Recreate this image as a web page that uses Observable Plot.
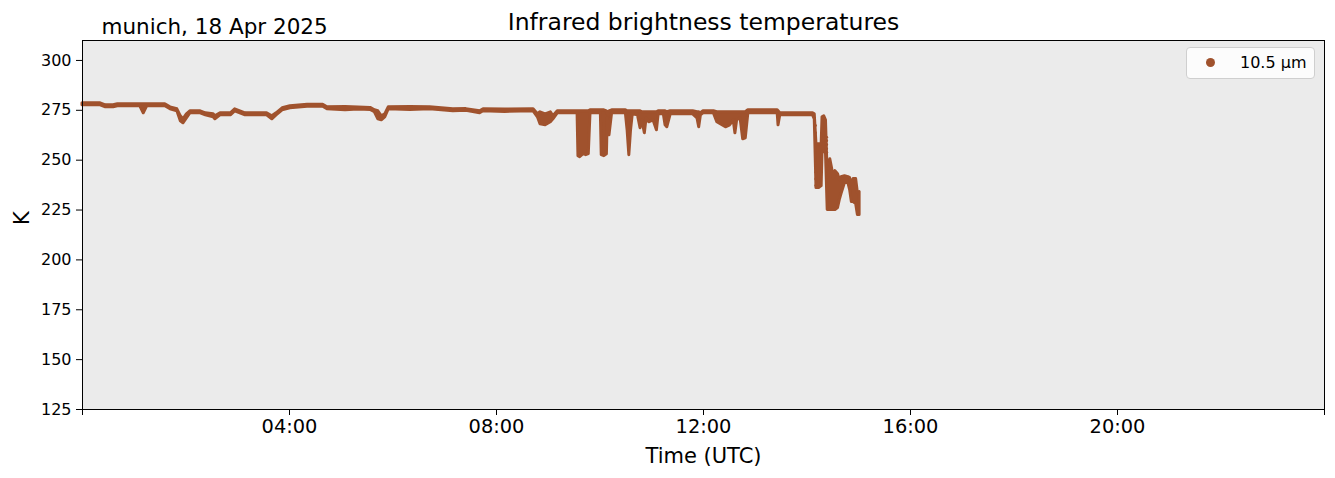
<!DOCTYPE html>
<html>
<head>
<meta charset="utf-8">
<script src="https://cdn.jsdelivr.net/npm/d3@7"></script>
<script src="https://cdn.jsdelivr.net/npm/@observablehq/plot@0.6"></script>
<style>
  html, body { margin: 0; padding: 0; background: white; }
  #wrap { position: relative; width: 1335px; height: 478px; font-family: "DejaVu Sans", sans-serif; }
  #legend { position: absolute; left: 1186px; top: 47px; width: 127px; height: 30px;
    background: rgba(255,255,255,0.85); border: 1px solid #cfcfcf; border-radius: 4px; }
  #legend .sw { position: absolute; left: 19px; top: 10px; width: 9px; height: 9px; border-radius: 50%; background: #a0522d; }
  #legend .lb { position: absolute; left: 53px; top: 3px; font-size: 16px; line-height: 24px; color: #000; }
</style>
</head>
<body>
<div id="wrap"><div id="legend"><span class="sw"></span><span class="lb">10.5 µm</span></div></div>
<script>
// ---- data ----
const day = "2025-04-18";
const seriesName = "10.5 µm";
const envTimes = ["00:00","00:21","00:27","00:36","00:41","01:07","01:11","01:15","01:36","01:42","01:50","01:54","01:57","02:01","02:05","02:17","02:23","02:32","02:34","02:40","02:52","02:57","03:03","03:09","03:34","03:40","03:45","03:52","04:01","04:21","04:39","04:44","05:05","05:20","05:34","05:39","05:43","05:47","05:51","05:55","06:20","06:43","07:10","07:25","07:41","07:45","08:10","08:43","08:48","08:51","08:57","09:03","09:06","09:11","09:34","09:35","09:37","09:41","09:44","09:47","09:49","10:01","10:02","10:05","10:08","10:09","10:11","10:14","10:30","10:32","10:34","10:36","10:38","10:44","10:47","10:49","10:52","10:54","10:57","11:02","11:06","11:08","11:14","11:16","11:18","11:22","11:48","11:53","11:55","11:57","12:00","12:12","12:16","12:22","12:26","12:31","12:35","12:37","12:39","12:43","12:46","12:49","12:52","13:26","13:27","13:29","14:07","14:09","14:11","14:14","14:17","14:18","14:20","14:22","14:24","14:25","14:27","14:29","14:31","14:33","14:36","14:38","14:40","14:44","14:48","14:50","14:52","14:54","14:57","14:59","15:01"];
const envLow = [277.5,277.5,276.5,276.5,277,277,273.5,277,277,275.5,274.5,269.5,268.5,271,273.5,273.5,272.5,271.5,270.5,272.5,272.5,274.5,273.5,272.5,272.5,270.5,272.5,275,276,276.8,276.8,275.5,275,275.4,275.2,274,270.5,270,271.5,275.5,275.2,275.5,274.5,274.8,273.5,274.5,274.2,274.5,271.5,268,267.5,269,270.5,273.5,273.5,252,251.5,253,252.5,253,273.5,273.5,252.5,252,253,271,262.5,273.5,273.5,265,252.5,265,273,272.5,266,270,263.5,271,269,270,265,273,273,267.5,266.5,273,273,271,266.5,272.5,273.5,273.5,269,267.5,266.5,267.5,270,263.5,270,271,260.5,261,273.5,273.5,267.5,272.5,272.5,270.5,236,236,237,254.5,254,254,225,225,225,225,225,225,226,230,233,238.5,238.5,235,229,229,228,222.5,222.5];
const envHigh = [278.5,278.5,277.5,277.5,278,278,278,278,278,276.5,275.5,272,270.5,273,274.5,274.5,273.5,273,272,273.5,273.5,275.5,274.5,273.5,273.5,272,273.5,276,277,277.8,277.8,276.5,276.6,276.4,276.2,275,274.5,272,273,276.5,276.6,276.5,275.5,275.6,274.5,275.5,275.4,275.5,273,274,273,274,272,274.5,274.5,274.5,274.5,274.5,274.5,274.5,275,275,275,275,274.5,273,274.5,275,275,274.5,274.5,274.5,274.5,274.5,274.5,274,274,274,274,274,274,274.5,274.5,274.5,274,274.5,274.5,274,274,273.5,274.5,274.5,274,274,274,274,274,274,274,274,274,274,275,275,274.5,273.5,273.5,273,258,258,258,271.5,272,270,241.5,241.5,250.5,246,241,244.5,243,240,241.5,242,241.5,241,238,240.5,240.5,233.5,234];
const dotTimes = ["14:10","14:10","14:10","14:10","14:10","14:10","14:10","14:10","14:10","14:10","14:23","14:23","14:23","14:23","14:23","14:23","14:23","14:23","14:23","14:23"];
const dotK = [267.4,263.7,260.7,257.3,253.7,250.1,247.3,244,240.6,237.3,261.5,259.8,257.8,255.7,254,249,247,244.8,243.1,241.4];
const yTicks = [125,150,175,200,225,250,275,300];
const xTickHours = ["00:00","04:00","08:00","12:00","16:00","20:00","24:00"];

// ---- build ----
const color = "#a0522d";
const toDate = t => t === "24:00" ? new Date(Date.UTC(2025,3,19)) : new Date(`${day}T${t}:00Z`);
const envelope = envTimes.map((t, i) => ({time: toDate(t), lo: envLow[i], hi: envHigh[i]}));
const sparse = dotTimes.map((t, i) => ({time: toDate(t), k: dotK[i]}));
const xTicks = xTickHours.map(toDate);
const fmt = d3.utcFormat("%H:%M");

const chart = Plot.plot({
  width: 1335, height: 478,
  marginTop: 40, marginBottom: 69, marginLeft: 82, marginRight: 11,
  style: {fontFamily: "DejaVu Sans, sans-serif", fontSize: "16px", color: "black", background: "white", overflow: "visible"},
  x: {type: "utc", domain: [toDate("00:00"), toDate("24:00")]},
  y: {domain: [125, 310]},
  marks: [
    Plot.frame({fill: "#ebebeb"}),
    Plot.areaY(envelope, {x: "time", y1: "lo", y2: "hi", fill: color, stroke: color, strokeWidth: 3, strokeLinejoin: "round"}),
    Plot.dot(sparse, {x: "time", y: "k", r: 1.3, fill: color}),
    Plot.frame({stroke: "black", strokeWidth: 1}),
    Plot.axisY({ticks: yTicks, tickSize: 6, tickPadding: 5, label: null, fontSize: 16}),
    Plot.axisX({ticks: xTicks, tickSize: 6, tickPadding: 4, label: null, fontSize: 19.4,
      tickFormat: d => d.getUTCHours() === 0 ? "" : fmt(d)}),
    Plot.text(["Time (UTC)"], {text: d => d, frameAnchor: "bottom", dy: 47, lineAnchor: "middle", fontSize: 21}),
    Plot.text(["K"], {text: d => d, frameAnchor: "left", dx: -60, rotate: -90, lineAnchor: "middle", fontSize: 21}),
    Plot.text(["Infrared brightness temperatures"], {text: d => d, frameAnchor: "top", dy: -18, lineAnchor: "middle", fontSize: 23.5}),
    Plot.text(["munich, 18 Apr 2025"], {text: d => d, frameAnchor: "top-left", dx: 19, dy: -13, textAnchor: "start", lineAnchor: "middle", fontSize: 21.5})
  ]
});
document.getElementById("wrap").prepend(chart);
</script>
</body>
</html>
